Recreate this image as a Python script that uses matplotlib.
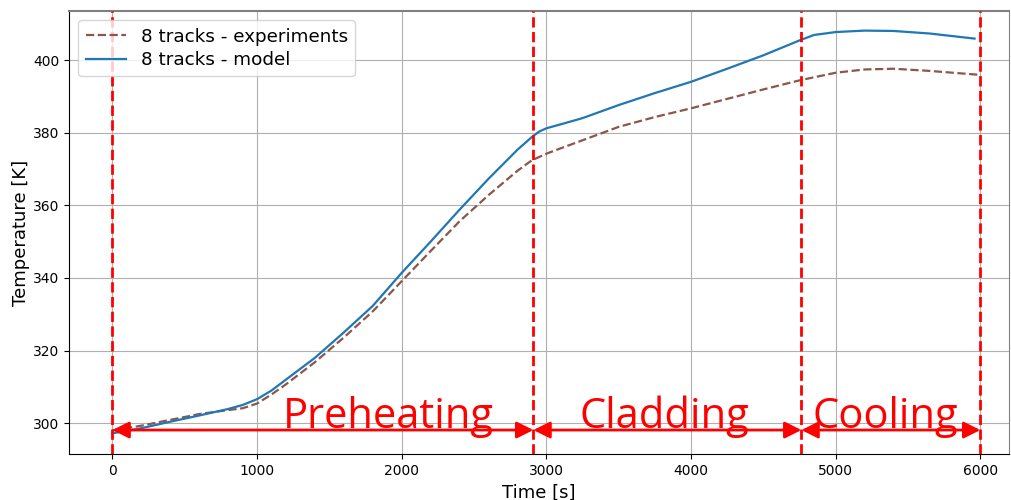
import matplotlib
matplotlib.use("Agg")
import matplotlib.pyplot as plt

# Data
t_model = [0, 200, 400, 600, 800, 900, 1000, 1100, 1200, 1400, 1600, 1800, 2000, 2200, 2400,
           2600, 2800, 2900, 2950, 3000, 3100, 3250, 3500, 3750, 4000, 4250, 4500,
           4750, 4850, 5000, 5200, 5400, 5650, 5960]
T_model = [297.2, 298.6, 300.4, 302.1, 303.9, 305.0, 306.6, 309.0, 312.0, 318.0, 325.0,
           332.3, 341.4, 350.0, 358.8, 367.3, 375.3, 378.8, 380.3, 381.2, 382.3,
           384.0, 387.6, 390.9, 394.0, 397.6, 401.3, 405.4, 406.9, 407.7, 408.1,
           408.0, 407.3, 405.9]

t_exp = [0, 200, 400, 600, 800, 900, 1000, 1100, 1200, 1400, 1600, 1800, 2000, 2200, 2400,
         2600, 2800, 2900, 3000, 3100, 3250, 3500, 3750, 4000, 4250, 4500, 4750,
         5000, 5200, 5400, 5650, 6000]
T_exp = [298.0, 299.3, 300.9, 302.5, 303.6, 304.1, 305.4, 307.9, 310.7, 316.8, 323.6,
         330.8, 339.1, 347.4, 355.6, 362.8, 369.5, 372.4, 374.2, 375.7, 377.9,
         381.6, 384.3, 386.7, 389.3, 391.9, 394.4, 396.5, 397.4, 397.6, 397.0,
         395.9]

phase_bounds = [0, 2910, 4763, 6000]
phase_names = ["Preheating", "Cladding", "Cooling"]
phase_label_x = [1908, 3816, 5343]
arrow_T = 298.1
label_T = 298.7

fig = plt.figure(figsize=(10.11, 5.0), dpi=100)
ax = fig.add_axes([0.0683, 0.092, 0.930, 0.886])

ax.plot(t_exp, T_exp, '--', color='#8c564b', lw=1.6, label='8 tracks - experiments')
ax.plot(t_model, T_model, '-', color='#1f77b4', lw=1.6, label='8 tracks - model')

for b in phase_bounds:
    ax.axvline(b, color='red', ls='--', lw=2, zorder=3)

for i in range(3):
    ax.annotate('', xy=(phase_bounds[i + 1], arrow_T), xytext=(phase_bounds[i], arrow_T),
                arrowprops=dict(arrowstyle='<|-|>', color='red', lw=2,
                                mutation_scale=25, shrinkA=0, shrinkB=0), zorder=4)
    ax.text(phase_label_x[i], label_T, phase_names[i], color='red', fontsize=30,
            family='Open Sans', ha='center', va='baseline', zorder=4)

ax.set_xlim(-300, 6200)
ax.set_ylim(291.5, 413.5)
ax.set_xticks([0, 1000, 2000, 3000, 4000, 5000, 6000])
ax.set_yticks([300, 320, 340, 360, 380, 400])
ax.grid(True, color='#b0b0b0', lw=0.8)
ax.set_xlabel('Time [s]', fontsize=13)
ax.set_ylabel('Temperature [K]', fontsize=13, labelpad=2)
ax.spines['top'].set_color('#808080')
ax.spines['top'].set_linewidth(1.5)
ax.spines['right'].set_color('#808080')
ax.legend(loc='upper left', fontsize=13.2, labelspacing=0.3, handlelength=2.2)

fig.savefig('out.png', dpi=100)
